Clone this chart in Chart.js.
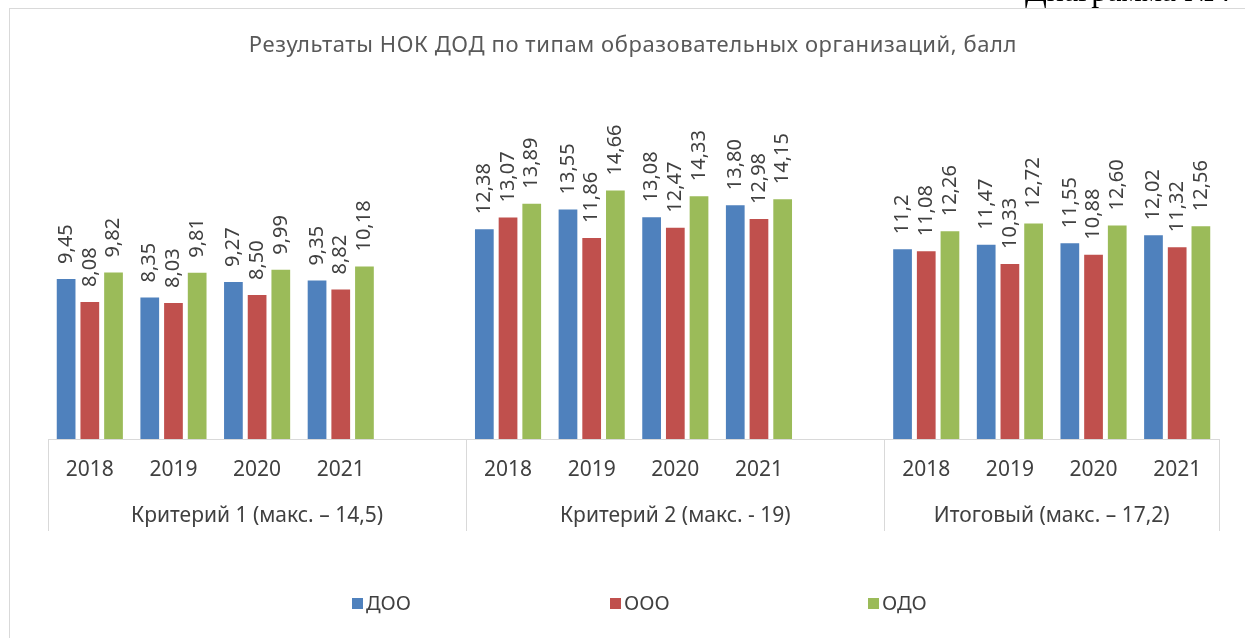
<!DOCTYPE html>
<html>
<head>
<meta charset="utf-8">
<script src="https://cdn.jsdelivr.net/npm/chart.js@4"></script>
<style>
  html, body { margin: 0; padding: 0; background: #fff; }
  canvas { display: block; }
</style>
</head>
<body>
<canvas id="myChart" width="1245" height="638"></canvas>
<script>
// data (labels shown exactly as in the source, decimal comma)
const years = ['2018', '2019', '2020', '2021'];
const groups = ['Критерий 1 (макс. – 14,5)', 'Критерий 2 (макс. - 19)', 'Итоговый (макс. – 17,2)'];
const seriesNames = ['ДОО', 'ООО', 'ОДО'];
const dooValues = ['9,45', '8,35', '9,27', '9,35', '12,38', '13,55', '13,08', '13,80', '11,2', '11,47', '11,55', '12,02'];
const oooValues = ['8,08', '8,03', '8,50', '8,82', '13,07', '11,86', '12,47', '12,98', '11,08', '10,33', '10,88', '11,32'];
const odoValues = ['9,82', '9,81', '9,99', '10,18', '13,89', '14,66', '14,33', '14,15', '12,26', '12,72', '12,60', '12,56'];
const seriesColors = ['#4F81BD', '#C0504D', '#9BBB59'];

const FONT = '"Noto Sans", "Open Sans", sans-serif';
const TEXT_COLOR = '#404040';
const LINE_COLOR = '#d9d9d9';

// категории: годы по группам, с пустым слотом между группами
const labels = [];
const groupSpans = [];
groups.forEach(function (g, gi) {
    const start = labels.length;
    years.forEach(y => labels.push(y));
    if (gi < groups.length - 1) labels.push('');
    groupSpans.push({ name: g, start: start, end: labels.length });
});

function spread(values) {
    const out = [];
    groups.forEach(function (g, gi) {
        years.forEach((y, yi) => out.push(values[gi * years.length + yi]));
        if (gi < groups.length - 1) out.push(null);
    });
    return out;
}

const textSeries = [dooValues, oooValues, odoValues].map(spread);
const toNum = s => s === null ? null : parseFloat(s.replace(',', '.'));

// frame, title, caption
const framePlugin = {
    id: 'frame',
    beforeDraw(chart) {
        const ctx = chart.ctx;
        ctx.save();
        ctx.fillStyle = '#fff';
        ctx.fillRect(0, 0, chart.width, chart.height);
        ctx.strokeStyle = LINE_COLOR;
        ctx.lineWidth = 1;
        ctx.strokeRect(9.5, 8.5, chart.width + 20, chart.height + 20);

        ctx.fillStyle = '#000';
        ctx.font = '32px "Liberation Serif", serif';
        ctx.textAlign = 'left';
        ctx.textBaseline = 'alphabetic';
        ctx.fillText('Диаграмма №4', 1025, 1);

        ctx.fillStyle = '#595959';
        ctx.font = '22px ' + FONT;
        ctx.letterSpacing = '0.6px';
        ctx.textAlign = 'center';
        ctx.textBaseline = 'middle';
        ctx.fillText('Результаты НОК ДОД по типам образовательных организаций, балл', 633, 46);
        ctx.restore();
    }
};

// подписи значений, повернутые на 90°
const valueLabels = {
    id: 'valueLabels',
    afterDatasetsDraw(chart) {
        const ctx = chart.ctx;
        ctx.save();
        ctx.font = '20px ' + FONT;
        ctx.fillStyle = TEXT_COLOR;
        ctx.textAlign = 'left';
        ctx.textBaseline = 'middle';
        chart.data.datasets.forEach(function (ds, di) {
            const meta = chart.getDatasetMeta(di);
            meta.data.forEach(function (bar, i) {
                const txt = textSeries[di][i];
                if (txt === null) return;
                ctx.save();
                ctx.translate(bar.x, bar.y - 15);
                ctx.rotate(-Math.PI / 2);
                ctx.fillText(txt, 0, 0);
                ctx.restore();
            });
        });
        ctx.restore();
    }
};

// второй уровень оси X, разделители и легенда
const groupAxis = {
    id: 'groupAxis',
    afterDraw(chart) {
        const ctx = chart.ctx;
        const xs = chart.scales.x;
        const slot = xs.getPixelForValue(1) - xs.getPixelForValue(0);
        const top = xs.top;
        const bottom = xs.bottom;
        ctx.save();
        ctx.strokeStyle = LINE_COLOR;
        ctx.lineWidth = 1;
        const edges = groupSpans.map(s => s.start).concat([labels.length]);
        edges.forEach(function (idx) {
            const x = Math.round(xs.getPixelForValue(idx) - slot / 2) + 0.5;
            ctx.beginPath();
            ctx.moveTo(x, top);
            ctx.lineTo(x, bottom);
            ctx.stroke();
        });

        ctx.font = '21px ' + FONT;
        ctx.fillStyle = TEXT_COLOR;
        ctx.textAlign = 'center';
        ctx.textBaseline = 'middle';
        groupSpans.forEach(function (s) {
            const x0 = xs.getPixelForValue(s.start) - slot / 2;
            const x1 = xs.getPixelForValue(s.end - 1) + slot / 2;
            ctx.fillText(s.name, (x0 + x1) / 2, 516);
        });

        // legend
        ctx.font = '20px ' + FONT;
        ctx.textAlign = 'left';
        seriesNames.forEach(function (name, i) {
            const x = 352 + i * 258;
            ctx.fillStyle = seriesColors[i];
            ctx.fillRect(x, 598, 11, 11);
            ctx.fillStyle = TEXT_COLOR;
            ctx.fillText(name, x + 14, 604);
        });
        ctx.restore();
    }
};

const ctx = document.getElementById('myChart').getContext('2d');
window.myChart = new Chart(ctx, {
    type: 'bar',
    data: {
        labels: labels,
        datasets: seriesNames.map(function (name, i) {
            return {
                label: name,
                data: textSeries[i].map(toNum),
                backgroundColor: seriesColors[i],
                borderWidth: 0,
                categoryPercentage: 0.85,
                barPercentage: 0.79
            };
        })
    },
    options: {
        responsive: false,
        maintainAspectRatio: false,
        animation: false,
        layout: {
            padding: { left: 48, right: 26, top: 134, bottom: 107 }
        },
        plugins: {
            legend: { display: false },
            title: { display: false },
            tooltip: { enabled: false }
        },
        scales: {
            x: {
                grid: { display: false, drawTicks: false },
                border: { display: true, color: LINE_COLOR, width: 1 },
                ticks: {
                    font: { family: FONT, size: 21 },
                    color: TEXT_COLOR,
                    padding: 18,
                    autoSkip: false,
                    maxRotation: 0
                },
                afterFit: function (scale) { scale.height = 92; }
            },
            y: {
                display: false,
                min: 0,
                max: 18
            }
        }
    },
    plugins: [framePlugin, valueLabels, groupAxis]
});
</script>
</body>
</html>
